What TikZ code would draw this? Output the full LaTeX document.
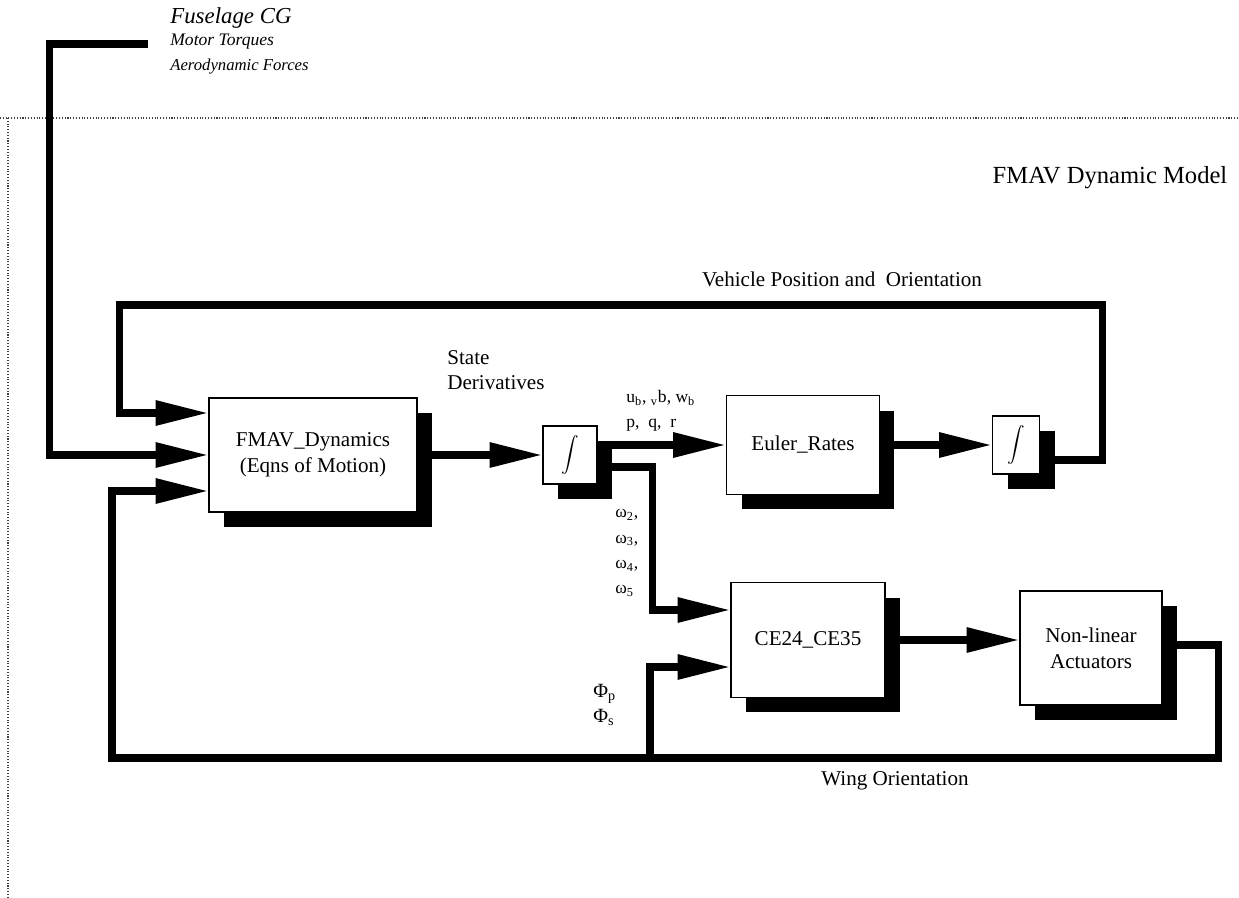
\documentclass[tikz,border=0pt]{standalone}
\usepackage{fontspec}
\setmainfont{Liberation Serif}
\usetikzlibrary{arrows.meta,calc,shadows}

\begin{document}
\begin{tikzpicture}[x=0.02cm,y=-0.02cm,
    blk/.style={draw,fill=white,line width=0.8pt,align=center,inner sep=0pt,
      font=\fontsize{12}{15}\selectfont,
      drop shadow={shadow xshift=0.3cm,shadow yshift=-0.3cm,fill=black,opacity=1}},
    flow/.style={line width=4pt,-{Triangle[length=30pt,width=13.5pt]}},
    lbl/.style={inner sep=0pt,align=left,font=\fontsize{12}{14}\selectfont},
    sml/.style={inner sep=0pt,align=left,font=\fontsize{10}{14}\selectfont}]
  \useasboundingbox (0,0) rectangle (1239,898);
  % subsystem frame
  \draw[densely dotted,line width=0.6pt,black!75] (0,118) -- (1239,118) (8,118) -- (8,898);
  \node[font=\fontsize{14}{16}\selectfont] (title) at (1110,178) {FMAV Dynamic Model};

  % outside inputs
  \node[anchor=west,inner sep=0pt,font=\itshape\fontsize{13}{15}\selectfont] (fcg) at (170,18) {Fuselage CG};
  \node[anchor=west,inner sep=0pt,font=\itshape\fontsize{10}{11}\selectfont] (mtq) at (170,42) {Motor Torques};
  \node[anchor=west,inner sep=0pt,font=\itshape\fontsize{9.5}{11}\selectfont] (aero) at (170,67) {Aerodynamic Forces};
  \coordinate (ext) at (148,44);

  % blocks
  \node[blk,minimum width=4.16cm,minimum height=2.28cm] (dyn) at (313,455) {FMAV\_Dynamics\\(Eqns of Motion)};
  \node[blk,minimum width=1.08cm,minimum height=1.16cm] (int1) at (570,455) {$\displaystyle\int$};
  \node[blk,minimum width=3.06cm,minimum height=1.98cm] (euler) at (803,445) {Euler\_Rates};
  \node[blk,minimum width=0.94cm,minimum height=1.16cm] (int2) at (1016,445) {$\displaystyle\int$};
  \node[blk,minimum width=3.08cm,minimum height=2.30cm] (ce) at (808,640) {CE24\_CE35};
  \node[blk,minimum width=2.84cm,minimum height=2.28cm] (act) at (1091,648) {Non-linear\\Actuators};

  \coordinate (fbpos) at ($(dyn.west)+(0,-42)$);
  \coordinate (fbwing) at ($(dyn.west)+(0,36)$);
  \coordinate (omg) at ($(ce.west)+(0,-30)$);
  \coordinate (phi) at ($(ce.west)+(0,27)$);
  \coordinate (wtap) at (650,758);

  % signals
  \draw[flow] (ext) -| ($(dyn.west)+(-159,0)$) -- (dyn.west);
  \draw[flow] (dyn) -- (int1);
  \draw[flow] (int1.east |- euler.west) -- (euler.west);
  \draw[flow] ($(int1.east)+(0,12)$) -- ++(55,0) |- (omg);
  \draw[flow] (euler) -- (int2);
  \draw[flow] ($(int2.east)+(0,15)$) -| (1102,305) -| ($(fbpos)+(-89,0)$) -- (fbpos);
  \draw[flow] (ce.east) -- (ce.east -| act.west);
  \draw[flow] ($(act.east)+(0,-3)$) -- ++(56,0) |- (112,758) |- (fbwing);
  \draw[flow] (wtap) |- (phi);

  % labels
  \node[lbl] (vpo) at (842,279) {Vehicle Position and\ \ Orientation};
  \node[lbl,anchor=west] (sd) at (447,370) {State\\Derivatives};
  \node[sml,anchor=west] (uvw) at (626,411) {u\textsubscript{b}, \textsubscript{v}b, w\textsubscript{b}\\p,\ \ q,\ \ r};
  \node[sml,anchor=west,font=\fontsize{10}{14.5}\selectfont] (wlbl) at (615,553) {ω\textsubscript{2},\\ω\textsubscript{3},\\ω\textsubscript{4},\\ω\textsubscript{5}};
  \node[sml,anchor=west,font=\fontsize{11.5}{14}\selectfont] (plbl) at (593,705) {Φ\textsubscript{p}\\Φ\textsubscript{s}};
  \node[lbl] (wo) at (895,781) {Wing Orientation};
\end{tikzpicture}
\end{document}
